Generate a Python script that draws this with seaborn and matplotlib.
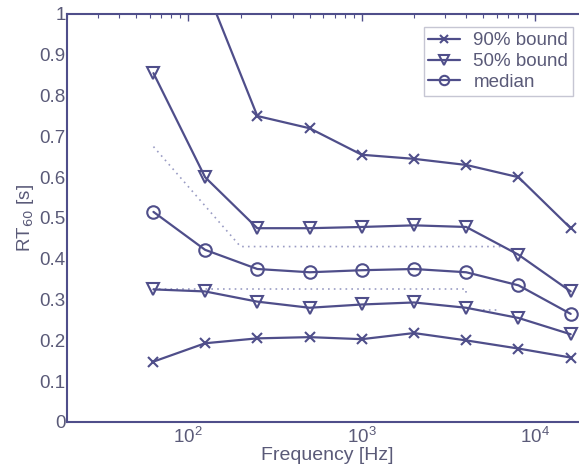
import numpy as np
import pandas as pd
import seaborn as sns
import matplotlib.pyplot as plt
from matplotlib.ticker import LogLocator, NullFormatter

# octave band centres
freqs = [63, 125, 250, 500, 1000, 2000, 4000, 8000, 16000]

# RT60 values
upper90 = [1.30, 1.07, 0.75, 0.72, 0.655, 0.645, 0.63, 0.60, 0.475]
upper50 = [0.855, 0.60, 0.475, 0.475, 0.478, 0.482, 0.478, 0.41, 0.32]
median = [0.515, 0.422, 0.375, 0.367, 0.372, 0.375, 0.367, 0.335, 0.265]
lower50 = [0.325, 0.32, 0.295, 0.28, 0.288, 0.293, 0.28, 0.255, 0.215]
lower90 = [0.148, 0.193, 0.205, 0.208, 0.203, 0.218, 0.20, 0.18, 0.158]

# dotted reference curves
ref_hi_f = [63, 200, 6300]
ref_hi_v = [0.675, 0.43, 0.43]
ref_lo_f = [63, 4000, 4000]
ref_lo_v = [0.325, 0.325, 0.31]
ref_lo2_f = [5000, 6300]
ref_lo2_v = [0.275, 0.275]

yticks = [0, 0.1, 0.2, 0.3, 0.4, 0.5, 0.6, 0.7, 0.8, 0.9, 1]
ytick_labels = ['0', '0.1', '0.2', '0.3', '0.4', '0.5', '0.6', '0.7', '0.8', '0.9', '1']

line_col = '#4f4e8a'
text_col = '#5a5a78'
dot_col = '#9a9cc4'

sns.set_style('white')
plt.rcParams['font.family'] = ['Liberation Sans', 'DejaVu Sans']

fig = plt.figure(figsize=(5.79, 4.71), dpi=100)
ax = fig.add_axes([67 / 579, 49 / 471, 520.5 / 579, 408 / 471])

for f, v in [(ref_hi_f, ref_hi_v), (ref_lo_f, ref_lo_v), (ref_lo2_f, ref_lo2_v)]:
    ax.plot(f, v, linestyle=(0, (1, 2.5)), color=dot_col, lw=1.2)

series = [
    (upper90, 'x', '90% bound'),
    (lower90, 'x', None),
    (upper50, 'v', '50% bound'),
    (lower50, 'v', None),
    (median, 'o', 'median'),
]
for vals, mk, lab in series:
    df = pd.DataFrame({'f': freqs, 'rt': vals})
    sns.lineplot(data=df, x='f', y='rt', ax=ax, color=line_col, lw=1.6,
                 marker=mk, markersize=9 if mk != 'x' else 7,
                 markerfacecolor='none', markeredgecolor=line_col,
                 markeredgewidth=1.5, label=lab, legend=False)

ax.set_xscale('log')
ax.set_xlim(20, 20000)
ax.set_ylim(0, 1)
ax.xaxis.set_major_locator(LogLocator(base=10, numticks=10))
ax.xaxis.set_minor_locator(LogLocator(base=10, subs=np.arange(2, 10), numticks=10))
ax.xaxis.set_minor_formatter(NullFormatter())
ax.set_yticks(yticks)
ax.set_yticklabels(ytick_labels)

ax.tick_params(which='both', direction='in', top=True, right=True,
               color=line_col, labelcolor=text_col, labelsize=13.5)
ax.tick_params(axis='y', pad=1)
ax.tick_params(which='major', length=5, width=1)
ax.tick_params(which='minor', length=3, width=0.8)
for s in ax.spines.values():
    s.set_color(line_col)
    s.set_linewidth(1.5)

ax.set_xlabel('Frequency [Hz]', fontsize=14, color=text_col, labelpad=0)
ax.set_ylabel('RT$_{60}$ [s]', fontsize=13.5, color=text_col)
ax.yaxis.set_label_coords(-0.059, 0.5)

handles, labels = ax.get_legend_handles_labels()
leg = ax.legend(handles, labels, loc='upper right', bbox_to_anchor=(0.99, 0.99),
                fontsize=13.5, frameon=True, fancybox=False, handlelength=1.7,
                handletextpad=0.7, borderpad=0.25, labelspacing=0.2,
                markerscale=0.75, labelcolor=text_col)
leg.get_frame().set_edgecolor('#b8b8c8')
leg.get_frame().set_linewidth(1.0)

fig.savefig('out.png', dpi=100)
